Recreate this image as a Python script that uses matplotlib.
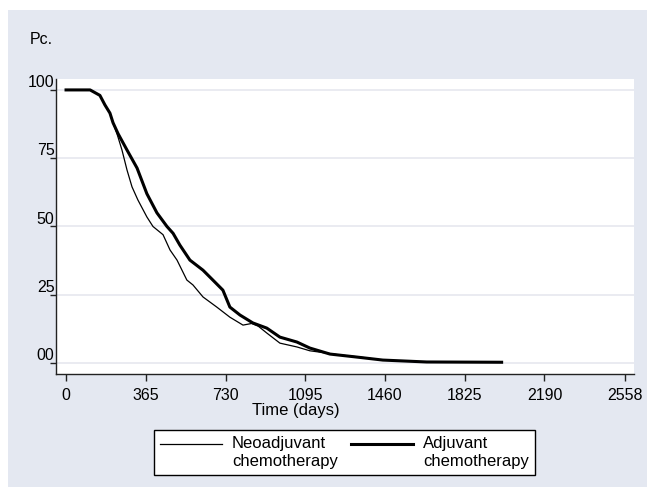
import matplotlib
matplotlib.use("Agg")
import matplotlib.pyplot as plt
from matplotlib.lines import Line2D
from matplotlib.patches import Rectangle
from matplotlib.legend_handler import HandlerLine2D

plt.rcParams['font.family'] = ['Liberation Sans', 'DejaVu Sans']

# survival curves (days, percent)
neo_days = [0, 110, 155, 178, 201, 215, 233, 256, 279, 302, 329, 370, 398, 444, 476,
            508, 553, 581, 627, 690, 750, 810, 850, 880, 919, 979, 1057, 1116, 1162,
            1250, 1345, 1450, 1650]
neo_pct = [100, 100, 98, 94.5, 91.5, 88, 84, 78, 70.7, 64.5, 59.7, 53.5, 50, 47, 41.4,
           37.7, 30.4, 28.6, 24.2, 20.5, 16.8, 13.9, 14.5, 13.5, 11, 7.3, 5.9, 4.5, 4.0,
           3.0, 2.2, 1.1, 0.4]

adj_days = [0, 110, 155, 178, 201, 215, 238, 279, 325, 370, 416, 462, 490, 521, 567,
            627, 672, 718, 750, 796, 855, 919, 979, 1057, 1116, 1208, 1331, 1450, 1651, 1994]
adj_pct = [100, 100, 98, 94.5, 91.5, 88, 84, 78, 71.4, 62, 55, 50, 47.5, 43.2, 37.7,
           34, 30.4, 26.7, 20.5, 17.6, 14.7, 12.8, 9.5, 7.7, 5.5, 3.3, 2.2, 1.1, 0.4, 0.3]

x_ticks = [0, 365, 730, 1095, 1460, 1825, 2190, 2558]
y_ticks = [0, 25, 50, 75, 100]
y_labels = ['00', '25', '50', '75', '100']


class TopLineHandler(HandlerLine2D):
    # put the legend line next to the first text line, not the middle
    def create_artists(self, legend, orig_handle, xdescent, ydescent,
                       width, height, fontsize, trans):
        arts = super().create_artists(legend, orig_handle, xdescent, ydescent,
                                      width, height, fontsize, trans)
        for a in arts:
            a.set_ydata([y + 0.55 * fontsize for y in a.get_ydata()])
        return arts


W, H = 647, 487
fig = plt.figure(figsize=(W / 100, H / 100), dpi=100)
fig.patch.set_facecolor('white')
fig.patches.append(Rectangle((8 / W, 0), 1 - 8 / W, 1 - 10 / H, transform=fig.transFigure,
                             facecolor='#e4e8f1', edgecolor='none', zorder=-10))

ax = fig.add_axes([56 / W, 1 - 374 / H, 578 / W, 295 / H])
ax.set_facecolor('white')

ax.plot(neo_days, neo_pct, color='black', lw=0.9, zorder=3)
ax.plot(adj_days, adj_pct, color='black', lw=2.2, zorder=4)

ax.set_xlim(-46, 2600)
ax.set_ylim(-4, 104)

ax.set_xticks(x_ticks)
ax.set_yticks(y_ticks)
ax.set_yticklabels(y_labels)
ax.grid(axis='y', color='#e6e8ef', lw=1.2)
ax.set_axisbelow(True)

for s in ['top', 'right']:
    ax.spines[s].set_visible(False)
for s in ['left', 'bottom']:
    ax.spines[s].set_color('#222222')
    ax.spines[s].set_linewidth(1.0)

ax.tick_params(axis='x', length=5, width=1, color='#222222', pad=5, labelsize=11.5)
ax.tick_params(axis='y', length=4, width=1, color='#222222', pad=-3, labelsize=11.5)
for lab in ax.get_yticklabels():
    lab.set_va('bottom')

fig.text(30 / W, 1 - 40 / H, 'Pc.', fontsize=11.5, ha='left', va='center')
fig.text(296 / W, 1 - 410 / H, 'Time (days)', fontsize=12, ha='center', va='center')

handles = [Line2D([], [], color='black', lw=0.9), Line2D([], [], color='black', lw=2.2)]
leg = fig.legend(handles, ['Neoadjuvant\nchemotherapy', 'Adjuvant\nchemotherapy'],
                 loc='center', bbox_to_anchor=(344.5 / W, 1 - 452.5 / H), ncol=2,
                 fontsize=12, frameon=True, fancybox=False, handlelength=3.7,
                 handletextpad=0.6, columnspacing=0.8, borderpad=0.35,
                 labelspacing=0.1, handler_map={Line2D: TopLineHandler()})
leg.get_frame().set_edgecolor('black')
leg.get_frame().set_linewidth(1.0)
leg.get_frame().set_facecolor('white')
leg.get_frame().set_alpha(1)

fig.savefig('out.png', dpi=100)
